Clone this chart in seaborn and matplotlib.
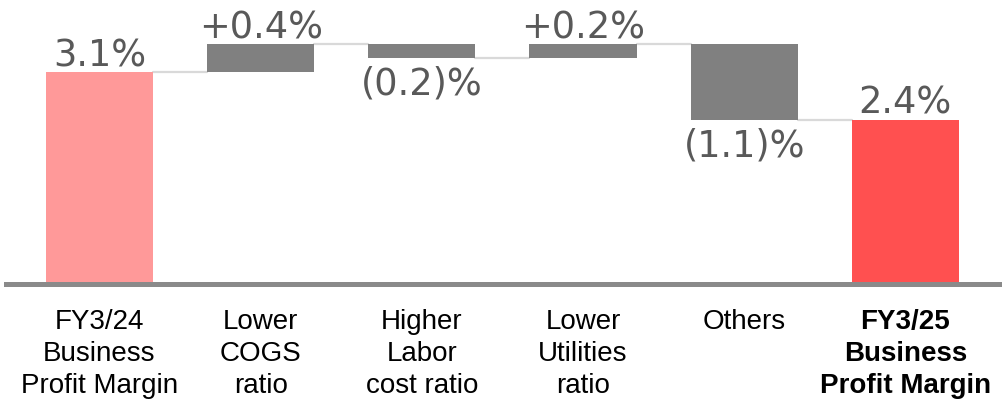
import numpy as np
import pandas as pd
import seaborn as sns
import matplotlib.pyplot as plt

# ==[ Data ]==============================================================
categories = [
    "FY3/24\nBusiness\nProfit Margin",
    "Lower\nCOGS\nratio",
    "Higher\nLabor\ncost ratio",
    "Lower\nUtilities\nratio",
    "Others",
    "FY3/25\nBusiness\nProfit Margin",
]
values = [3.1, 0.4, -0.2, 0.2, -1.1, 2.4]
is_total = [True, False, False, False, False, True]
bar_colors = ["#FF9999", "#808080", "#808080", "#808080", "#808080", "#FF5050"]

# --< waterfall geometry >------------------------------------------------
bottoms, heights, levels, labels = [], [], [], []
running = 0.0
for v, total in zip(values, is_total):
    if total:
        bottoms.append(0.0)
        heights.append(v)
        running = v
        labels.append(f"{v:.1f}%")
    else:
        bottoms.append(running if v > 0 else running + v)
        heights.append(abs(v))
        running += v
        labels.append(f"+{v:.1f}%" if v > 0 else f"({abs(v):.1f})%")
    levels.append(running)

df = pd.DataFrame({"cat": categories, "height": heights})

# ==[ Plot ]==============================================================
sns.set_style("white")
plt.rcParams["font.family"] = ["DejaVu Sans"]

fig = plt.figure(figsize=(10.02, 4.06), dpi=100)
ax = fig.add_axes([6 / 1002, 121 / 406, 996 / 1002, 285 / 406])

bar_w = 0.665
sns.barplot(data=df, x="cat", y="height", order=categories, bottom=np.array(bottoms),
            color="#808080", width=bar_w, errorbar=None, saturation=1, ax=ax,
            linewidth=0)
for patch, c in zip(ax.patches, bar_colors):
    patch.set_facecolor(c)
    patch.set_edgecolor(c)

# connectors
for i in range(len(values) - 1):
    ax.plot([i + bar_w / 2, i + 1 - bar_w / 2], [levels[i], levels[i]],
            color="#d9d9d9", lw=1.6, zorder=0)

# value labels
for i, (v, total) in enumerate(zip(values, is_total)):
    top = bottoms[i] + heights[i]
    if total or v > 0:
        ax.annotate(labels[i], (i, top), xytext=(0, -1), textcoords="offset points",
                    ha="center", va="bottom", fontsize=26.5, color="#595959")
    else:
        ax.annotate(labels[i], (i, bottoms[i]), xytext=(0, -5), textcoords="offset points",
                    ha="center", va="top", fontsize=26.5, color="#595959")

ax.set_xlim(-0.58, 5.6)
ax.set_ylim(0, 285 / 68.5)
ax.set_xlabel("")
ax.set_ylabel("")
ax.set_yticks([])
for s in ["top", "left", "right"]:
    ax.spines[s].set_visible(False)
ax.spines["bottom"].set_color("#8a8a8a")
ax.spines["bottom"].set_linewidth(3.6)
ax.tick_params(axis="x", length=0, pad=17)
for t in ax.get_xticklabels():
    t.set_fontfamily("Liberation Sans")
    t.set_fontsize(20)
    t.set_color("black")
    t.set_linespacing(1.32)
ax.get_xticklabels()[-1].set_fontweight("bold")

fig.savefig("out.png", dpi=100)
